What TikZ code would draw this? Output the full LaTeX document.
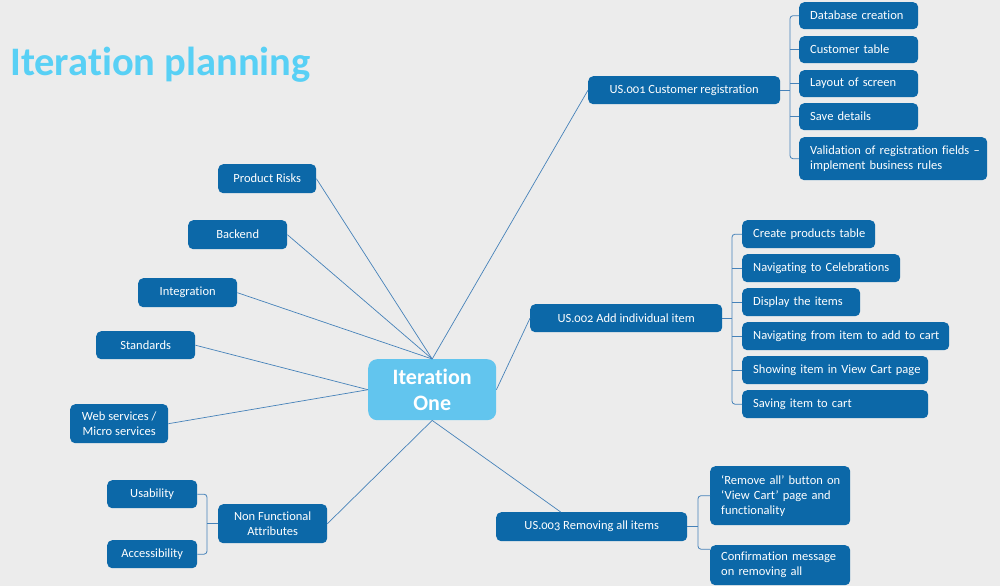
\documentclass[tikz,border=0pt]{standalone}
\usepackage{fontspec}
\setmainfont{Carlito}[Ligatures=NoCommon]
\definecolor{bgcol}{RGB}{236,236,236}
\definecolor{nodeblue}{RGB}{12,104,168}
\definecolor{centerblue}{RGB}{98,197,238}
\definecolor{titlecol}{RGB}{88,208,245}
\definecolor{linecol}{RGB}{70,130,185}
\newcommand{\osn}{\addfontfeatures{Numbers=OldStyle}}
\newcommand{\oneline}[1]{\mbox{#1}}
\tikzset{
  box/.style={fill=nodeblue, text=white, rounded corners=5pt, inner ysep=0pt, anchor=north west, font=\fontsize{12.5}{15}\selectfont},
  lbox/.style 2 args={box, inner xsep=11pt, text width=#1, minimum height=#2, align=left},
  cbox/.style 2 args={box, inner xsep=0pt, minimum width=#1, minimum height=#2, align=center},
  conn/.style={draw=linecol, line width=0.7pt},
  brk/.style={draw=linecol, line width=0.8pt, rounded corners=3pt}
}
\begin{document}
\begin{tikzpicture}[x=1pt,y=-1pt]
\fill[bgcol] (0,0) rectangle (1000,586);
\useasboundingbox (0,0) rectangle (1000,586);

\node[anchor=base west, inner sep=0pt, text=titlecol, font=\fontsize{40.5}{44}\selectfont\bfseries] (title) at (10,75) {Iteration planning};

% centre
\node[box, inner xsep=0pt, fill=centerblue, rounded corners=9pt, minimum width=128pt, minimum height=61pt, align=center, font=\fontsize{22}{26}\selectfont\bfseries] (c) at (368,359) {Iteration\\One};

% US.001
\node[cbox={192pt}{28pt}] (us1) at (588,76) {US.\osn001 Customer registration};
\node[lbox={97pt}{27pt}] (db) at (799,2) {\oneline{Database creation}};
\node[lbox={97pt}{27pt}] (ct) at (799,36) {\oneline{Customer table}};
\node[lbox={97pt}{27pt}] (ls) at (799,70) {\oneline{Layout of screen}};
\node[lbox={97pt}{27pt}] (sd) at (799,103) {\oneline{Save details}};
\node[lbox={166pt}{43pt}] (val) at (799,137) {\oneline{Validation of registration fields --}\\\oneline{implement business rules}};

% US.002
\node[cbox={192pt}{28pt}] (us2) at (530,304) {US.\osn002 Add individual item};
\node[lbox={111pt}{28pt}] (cp) at (742,220) {\oneline{Create products table}};
\node[lbox={136pt}{28pt}] (nc) at (742,254) {\oneline{Navigating to Celebrations}};
\node[lbox={96pt}{28pt}] (di) at (742,288) {\oneline{Display the items}};
\node[lbox={185pt}{28pt}] (nf2) at (742,322) {\oneline{Navigating from item to add to cart}};
\node[lbox={164pt}{28pt}] (sv) at (742,356) {\oneline{Showing item in View Cart page}};
\node[lbox={164pt}{28pt}] (si) at (742,390) {\oneline{Saving item to cart}};

% US.003
\node[cbox={191pt}{29pt}] (us3) at (496,512) {US.\osn003 Removing all items};
\node[lbox={118pt}{59pt}] (ra) at (710,466) {\oneline{`Remove all' button on}\\\oneline{`View Cart' page and}\\\oneline{functionality}};
\node[lbox={118pt}{40pt}] (cm) at (710,545) {\oneline{Confirmation message}\\\oneline{on removing all}};

% left side
\node[cbox={98pt}{29pt}] (pr) at (218,164) {Product Risks};
\node[cbox={99pt}{29pt}] (be) at (188,220) {Backend};
\node[cbox={99pt}{29pt}] (ig) at (138,278) {Integration};
\node[cbox={99pt}{28pt}] (st) at (96,331) {Standards};
\node[cbox={98pt}{39pt}] (ws) at (70,404) {Web services /\\Micro services};
\node[cbox={109pt}{39pt}] (nfa) at (218,504) {Non Functional\\Attributes};
\node[cbox={90pt}{28pt}] (us) at (107,480) {Usability};
\node[cbox={90pt}{28pt}] (ac) at (107,540) {Accessibility};

% spokes
\draw[conn] (pr.east) -- (c.north);
\draw[conn] (be.east) -- (c.north);
\draw[conn] (ig.east) -- (c.north);
\draw[conn] (st.east) -- (c.west);
\draw[conn] (ws.east) -- (c.west);
\draw[conn] (c.north) -- (us1.west);
\draw[conn] (c.east) -- (us2.west);
\draw[conn] (c.south) -- ([xshift=-31pt]us3.north);
\draw[conn] (c.south) -- (nfa.east);

% brackets
\coordinate (b1) at (790,0);
\draw[brk] (db.west) -- (db.west -| b1) -- (val.west -| b1) -- (val.west);
\draw[brk] (ct.west) -- (ct.west -| b1);
\draw[brk] (ls.west) -- (ls.west -| b1);
\draw[brk] (sd.west) -- (sd.west -| b1);
\draw[brk] (us1.east) -- (us1.east -| b1);

\coordinate (b2) at (732,0);
\draw[brk] (cp.west) -- (cp.west -| b2) -- (si.west -| b2) -- (si.west);
\draw[brk] (nc.west) -- (nc.west -| b2);
\draw[brk] (di.west) -- (di.west -| b2);
\draw[brk] (nf2.west) -- (nf2.west -| b2);
\draw[brk] (sv.west) -- (sv.west -| b2);
\draw[brk] (us2.east) -- (us2.east -| b2);

\coordinate (b3) at (698,0);
\draw[brk] (ra.west) -- (ra.west -| b3) -- ([yshift=16pt]cm.west -| b3) -- ([yshift=16pt]cm.west);
\draw[brk] (us3.east) -- (us3.east -| b3);

\coordinate (b4) at (207,0);
\draw[brk] (us.east) -- (us.east -| b4) -- (ac.east -| b4) -- (ac.east);
\draw[brk] (nfa.west) -- (nfa.west -| b4);
\end{tikzpicture}
\end{document}
